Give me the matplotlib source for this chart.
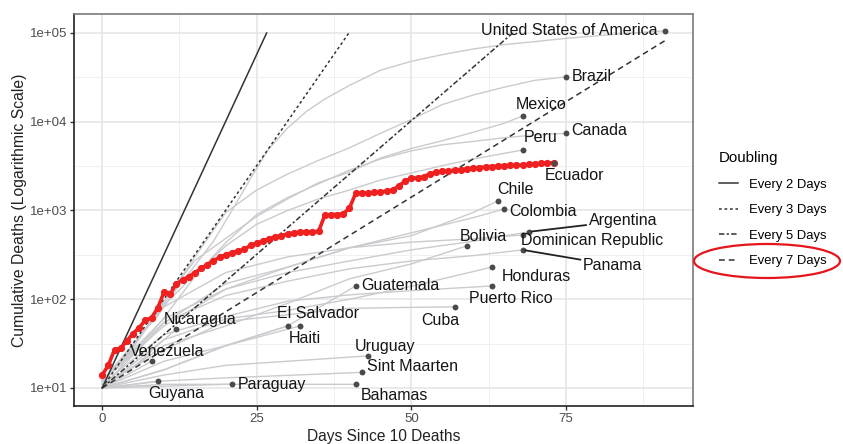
import numpy as np
import matplotlib.pyplot as plt
from matplotlib.patches import Ellipse

plt.rcParams['font.family'] = ['Liberation Sans', 'DejaVu Sans']

# doubling guides: every line starts at (0, 10) and stops where it leaves the panel
doubling_labels = ['Every 2 Days', 'Every 3 Days', 'Every 5 Days', 'Every 7 Days']
doubling_end_day = [26.6, 39.9, 66.4, 91]
doubling_end_deaths = [100000, 100000, 100000, 81900]

# Ecuador, one value per day since the 10th death
ecuador_deaths = [14, 18, 27, 28, 34, 41, 48, 58, 62, 80,
                  120, 114, 150, 165, 180, 200, 222, 245, 272, 297,
                  315, 335, 350, 365, 405, 425, 455, 480, 505, 520,
                  545, 560, 570, 576, 576, 580, 883, 900, 900, 920,
                  1063, 1564, 1569, 1569, 1600, 1618, 1654, 1704, 1900, 2145,
                  2300, 2330, 2400, 2594, 2688, 2758, 2799, 2839, 2888, 2950,
                  3000, 3050, 3096, 3130, 3160, 3190, 3220, 3240, 3260, 3300,
                  3360, 3400, 3440, 3460]

# other countries: (days, cumulative deaths)
usa = ([0, 3, 6, 9, 12, 15, 18, 21, 24, 27, 30, 33, 36, 40, 45, 50, 55, 60, 65, 70, 75, 80, 85, 91],
       [10, 17, 38, 65, 130, 240, 450, 1000, 2300, 5000, 8500, 13000, 18000, 25700, 38000, 48000,
        57000, 66000, 74000, 80000, 87000, 93000, 99000, 106000])
brazil = ([0, 5, 10, 15, 20, 25, 30, 35, 40, 45, 50, 55, 60, 65, 70, 75],
          [11, 30, 90, 300, 950, 1700, 2575, 3670, 5083, 7400, 10600, 15600, 20000, 24500, 29300, 32000])
canada = ([0, 5, 10, 15, 20, 25, 30, 35, 40, 45, 50, 55, 60, 65, 70, 75],
          [12, 24, 62, 180, 435, 900, 1400, 2000, 2850, 3800, 4700, 5500, 6000, 6600, 7100, 7400])
mexico = ([0, 5, 10, 15, 20, 25, 30, 35, 40, 45, 50, 55, 60, 65, 68],
          [12, 28, 94, 273, 486, 857, 1351, 2061, 2704, 3900, 5000, 6100, 7600, 9600, 11600])
peru = ([0, 5, 10, 15, 20, 25, 30, 35, 40, 45, 50, 55, 60, 65, 68],
        [11, 30, 86, 190, 400, 700, 1000, 1350, 1700, 2200, 2650, 3200, 3800, 4400, 4800])
chile = ([0, 10, 20, 30, 40, 50, 55, 60, 64], [12, 50, 130, 230, 380, 520, 700, 950, 1280])
colombia = ([0, 10, 20, 30, 40, 50, 60, 65], [10, 54, 150, 230, 380, 560, 830, 1040])
argentina = ([0, 10, 20, 30, 40, 50, 60, 69], [12, 60, 130, 200, 270, 360, 450, 575])
dominican = ([0, 10, 20, 30, 40, 50, 60, 68], [12, 82, 200, 300, 380, 440, 480, 530])
panama = ([0, 10, 20, 30, 40, 50, 60, 68], [12, 55, 110, 160, 220, 270, 310, 360])
bolivia = ([0, 10, 20, 30, 40, 50, 59], [10, 30, 50, 90, 170, 250, 400])
honduras = ([0, 10, 20, 30, 40, 50, 63], [10, 35, 60, 75, 100, 140, 230])
puerto_rico = ([0, 10, 20, 30, 40, 50, 63], [11, 40, 64, 95, 112, 125, 141])
cuba = ([0, 10, 20, 30, 40, 50, 57], [11, 27, 56, 67, 79, 81, 82])
guatemala = ([0, 10, 20, 30, 35, 41], [10, 16, 30, 50, 80, 141])
el_salvador = ([0, 10, 20, 32], [10, 16, 30, 50])
haiti = ([0, 10, 20, 30], [10, 20, 30, 50])
nicaragua = ([0, 5, 10, 12], [11, 17, 35, 46])
venezuela = ([0, 4, 8], [10, 14, 20])
guyana = ([0, 5, 9], [10, 11, 12])
paraguay = ([0, 10, 21], [10, 11, 11])
uruguay = ([0, 10, 20, 30, 43], [10, 14, 18, 20, 23])
sint_maarten = ([0, 10, 20, 42], [10, 12, 13, 15])
bahamas = ([0, 20, 41], [10, 11, 11])

country_names = ['United States of America', 'Brazil', 'Canada', 'Mexico', 'Peru', 'Chile',
                 'Colombia', 'Argentina', 'Dominican Republic', 'Panama', 'Bolivia', 'Honduras',
                 'Puerto Rico', 'Cuba', 'Guatemala', 'El Salvador', 'Haiti', 'Nicaragua',
                 'Venezuela', 'Guyana', 'Paraguay', 'Uruguay', 'Sint Maarten', 'Bahamas']
country_data = [usa, brazil, canada, mexico, peru, chile, colombia, argentina, dominican, panama,
                bolivia, honduras, puerto_rico, cuba, guatemala, el_salvador, haiti, nicaragua,
                venezuela, guyana, paraguay, uruguay, sint_maarten, bahamas]

# label placement (offset points from the end dot, alignment, draw a leader segment)
label_style = {
    'United States of America': ((-5, 0), 'right', False),
    'Brazil': ((4, 0), 'left', False),
    'Canada': ((4, 2), 'left', False),
    'Mexico': ((13, 8), 'center', False),
    'Peru': ((13, 9), 'center', False),
    'Chile': ((13, 8), 'center', False),
    'Colombia': ((4, -2), 'left', False),
    'Argentina': ((68, 8), 'center', True),
    'Dominican Republic': ((50, -4), 'center', False),
    'Panama': ((65, -11), 'center', True),
    'Bolivia': ((12, 7), 'center', False),
    'Honduras': ((32, -7), 'center', False),
    'Puerto Rico': ((14, -9), 'center', False),
    'Cuba': ((-10, -10), 'center', False),
    'Guatemala': ((4, 0), 'left', False),
    'El Salvador': ((13, 9), 'center', False),
    'Haiti': ((12, -9), 'center', False),
    'Nicaragua': ((17, 7), 'center', False),
    'Venezuela': ((11, 7), 'center', False),
    'Guyana': ((13, -9), 'center', False),
    'Paraguay': ((4, 0), 'left', False),
    'Uruguay': ((12, 7), 'center', False),
    'Sint Maarten': ((4, 4), 'left', False),
    'Bahamas': ((28, -8), 'center', False),
}

fig = plt.figure(figsize=(8.43, 4.44), dpi=100)
ax = fig.add_axes([74 / 843, 1 - 406 / 444, 619 / 843, 392 / 444])

for days, deaths in country_data:
    ax.plot(days, deaths, color='#cacbce', lw=1.0, zorder=1)

dash_styles = ['-', (0, (1.8, 1.8)), (0, (3.5, 1.5, 1.5, 1.5)), (0, (3.8, 2.6))]
handles = []
for lab, end_d, end_v, ls in zip(doubling_labels, doubling_end_day, doubling_end_deaths, dash_styles):
    h, = ax.plot([0, end_d], [10, end_v], color='#333333', lw=1.1, ls=ls, zorder=2, label=lab)
    handles.append(h)

ecu_days = np.arange(len(ecuador_deaths))
ax.plot(ecu_days, ecuador_deaths, color='#ee2020', lw=2.6, marker='o', ms=4.2,
        mec='#ee2020', mfc='#ee2020', zorder=3)

end_x = [d[-1] for d, v in country_data] + [ecu_days[-1]]
end_y = [v[-1] for d, v in country_data] + [ecuador_deaths[-1]]
ax.scatter(end_x, end_y, s=18, color='#4a4a4a', zorder=4, linewidths=0)

for name, (days, deaths) in zip(country_names, country_data):
    (dx, dy), ha, seg = label_style[name]
    arrow = dict(arrowstyle='-', color='#222222', lw=1.3, shrinkA=0, shrinkB=2) if seg else None
    ax.annotate(name, xy=(days[-1], deaths[-1]), xytext=(dx, dy), textcoords='offset points',
                ha=ha, va='center', fontsize=11.5, color='#151515', zorder=5, arrowprops=arrow)
ax.annotate('Ecuador', xy=(ecu_days[-1], ecuador_deaths[-1]), xytext=(15, -9),
            textcoords='offset points', ha='center', va='center', fontsize=11.5,
            color='#151515', zorder=5)

ax.set_yscale('log')
ax.set_xlim(-4.55, 95.55)
ax.set_ylim(10 ** 0.797, 10 ** 5.214)
ax.set_yticks([10, 100, 1000, 10000, 100000])
ax.set_yticklabels(['1e+01', '1e+02', '1e+03', '1e+04', '1e+05'])
ax.set_yticks([10 ** 1.5, 10 ** 2.5, 10 ** 3.5, 10 ** 4.5], minor=True)
ax.set_xticks([0, 25, 50, 75])
ax.set_xticks([12.5, 37.5, 62.5, 87.5], minor=True)
ax.grid(True, which='major', color='#e4e4e8', lw=1.1, zorder=0)
ax.grid(True, which='minor', color='#eeeef0', lw=0.6, zorder=0)
ax.set_axisbelow(True)
ax.tick_params(which='major', length=3, width=1, color='#333333', labelcolor='#4d4d4d',
               labelsize=9.5, pad=2)
ax.tick_params(which='minor', length=0)
for side in ['left', 'bottom']:
    ax.spines[side].set_color('#222222')
    ax.spines[side].set_linewidth(1.2)
for side in ['top', 'right']:
    ax.spines[side].set_color('#7a7a7a')
    ax.spines[side].set_linewidth(1.2)

ax.set_xlabel('Days Since 10 Deaths', fontsize=11.2, color='#222222', labelpad=3)
ax.set_ylabel('Cumulative Deaths (Logarithmic Scale)', fontsize=11.3, color='#222222', labelpad=1.5)

fig.legend(handles, doubling_labels, loc='upper left', bbox_to_anchor=(0.845, 0.674),
           frameon=False, title='Doubling', title_fontsize=10.8, fontsize=9.4,
           handlelength=1.5, handletextpad=0.8, labelspacing=1.02, borderpad=0,
           alignment='left')

fig.add_artist(Ellipse((767 / 843, 1 - 261 / 444), 146 / 843, 34 / 444,
                       transform=fig.transFigure, fill=False, ec='#e5151b', lw=1.6))

fig.savefig('out.png', dpi=100)
